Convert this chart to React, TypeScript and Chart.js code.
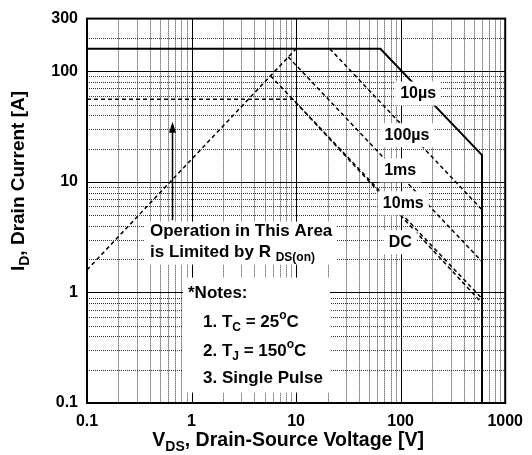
import React, { useEffect, useRef } from 'react';
import { Chart, registerables } from 'chart.js';

Chart.register(...registerables);

const FONT = '"Liberation Sans", Arial, Helvetica, sans-serif';

// Axis ranges and tick labels
const xTickValues = [0.1, 1, 10, 100, 1000];
const yTickValues = [0.1, 1, 10, 100, 300];
const xMajorGrid = [1, 10, 100];
const yMajorGrid = [1, 10, 100];

// Safe operating area boundaries (V, A)
const limitV = [0.1, 64, 600, 600];
const limitI = [160, 160, 17.5, 0.1];
const rdsV = [0.1, 10];
const rdsI = [1.6, 160];
const us100V = [21, 600];
const us100I = [160, 5.6];
const ms1V = [8.4, 600];
const ms1I = [135, 1.9];
const ms10V = [5.7, 600];
const ms10I = [91, 0.88];
const dcV = [0.1, 9.3, 600];
const dcI = [56, 56, 0.8];

// Curve labels (anchored in data coordinates)
const curveLabels = ['10µs', '100µs', '1ms', '10ms', 'DC'];
const curveLabelV = [147, 115, 99, 106, 99];
const curveLabelI = [63, 26.4, 12.7, 6.4, 2.85];

// Arrow (data coordinates)
const arrowV = 0.65;
const arrowFromI = 4.5;
const arrowToI = 35;

const pts = (xs: number[], ys: number[]) => xs.map((v, i) => ({ x: v, y: ys[i] }));

type Seg = [string, number];

function richWidth(ctx: CanvasRenderingContext2D, segs: Seg[], size: number) {
  let w = 0;
  for (const [t, k] of segs) {
    ctx.font = `bold ${k === 0 ? size : Math.round(size * 0.72)}px ${FONT}`;
    w += ctx.measureText(t).width;
  }
  return w;
}

function drawRich(ctx: CanvasRenderingContext2D, segs: Seg[], x: number, y: number, size: number, align: 'left' | 'center') {
  const total = richWidth(ctx, segs, size);
  let cx = align === 'center' ? x - total / 2 : x;
  ctx.textBaseline = 'middle';
  ctx.textAlign = 'left';
  ctx.fillStyle = '#000';
  for (const [t, k] of segs) {
    ctx.font = `bold ${k === 0 ? size : Math.round(size * 0.72)}px ${FONT}`;
    const dy = k === 1 ? size * 0.32 : k === 2 ? -size * 0.38 : 0;
    ctx.fillText(t, cx, y + dy);
    cx += ctx.measureText(t).width;
  }
}

const soaPlugin = {
  id: 'soaPlugin',
  beforeDatasetsDraw(chart: any) {
    const { ctx, chartArea, scales } = chart;
    const { left, right, top, bottom } = chartArea;
    const xs = scales.x;
    const ys = scales.y;
    ctx.save();
    ctx.lineWidth = 1;
    // minor grid
    ctx.strokeStyle = '#333';
    ctx.setLineDash([1, 1]);
    for (let d = -1; d <= 2; d++) {
      for (let m = 2; m <= 9; m++) {
        const v = m * Math.pow(10, d);
        if (v > 0.1 && v < 1000) {
          const px = Math.round(xs.getPixelForValue(v)) + 0.5;
          ctx.beginPath();
          ctx.moveTo(px, top);
          ctx.lineTo(px, bottom);
          ctx.stroke();
        }
        if (v > 0.1 && v < 300) {
          const py = Math.round(ys.getPixelForValue(v)) + 0.5;
          ctx.beginPath();
          ctx.moveTo(left, py);
          ctx.lineTo(right, py);
          ctx.stroke();
        }
      }
    }
    // major grid
    ctx.setLineDash([]);
    ctx.strokeStyle = '#000';
    for (const v of xMajorGrid) {
      const px = Math.round(xs.getPixelForValue(v)) + 0.5;
      ctx.beginPath();
      ctx.moveTo(px, top);
      ctx.lineTo(px, bottom);
      ctx.stroke();
    }
    for (const v of yMajorGrid) {
      const py = Math.round(ys.getPixelForValue(v)) + 0.5;
      ctx.beginPath();
      ctx.moveTo(left, py);
      ctx.lineTo(right, py);
      ctx.stroke();
    }
    ctx.restore();
  },
  afterDatasetsDraw(chart: any) {
    const { ctx, chartArea, scales } = chart;
    const { left, right, top, bottom } = chartArea;
    const xs = scales.x;
    const ys = scales.y;
    ctx.save();

    // curve labels with white boxes
    curveLabels.forEach((lab, i) => {
      const cx = xs.getPixelForValue(curveLabelV[i]);
      const cy = ys.getPixelForValue(curveLabelI[i]);
      ctx.font = `bold 16px ${FONT}`;
      const w = ctx.measureText(lab).width;
      ctx.fillStyle = '#fff';
      ctx.fillRect(cx - w / 2 - 5, cy - 12, w + 10, 24);
      ctx.fillStyle = '#000';
      ctx.textAlign = 'center';
      ctx.textBaseline = 'middle';
      ctx.fillText(lab, cx, cy);
    });

    // RDS(on) note box
    ctx.fillStyle = '#fff';
    ctx.fillRect(left + 58, top + 203, 192, 43);
    drawRich(ctx, [['Operation in This Area', 0]], left + 63, top + 213, 17, 'left');
    drawRich(ctx, [['is Limited by R ', 0], ['DS(on)', 1]], left + 63, top + 234, 17, 'left');

    // Notes box
    ctx.fillStyle = '#fff';
    ctx.fillRect(left + 96, top + 259, 147, 115);
    drawRich(ctx, [['*Notes:', 0]], left + 101, top + 275, 17, 'left');
    drawRich(ctx, [['1. T', 0], ['C', 1], [' = 25', 0], ['o', 2], ['C', 0]], left + 116, top + 304, 17, 'left');
    drawRich(ctx, [['2. T', 0], ['J', 1], [' = 150', 0], ['o', 2], ['C', 0]], left + 116, top + 333, 17, 'left');
    drawRich(ctx, [['3. Single Pulse', 0]], left + 116, top + 360, 17, 'left');

    // arrow
    const ax = Math.round(xs.getPixelForValue(arrowV)) + 0.5;
    const ay1 = ys.getPixelForValue(arrowFromI);
    const ay2 = ys.getPixelForValue(arrowToI);
    ctx.strokeStyle = '#000';
    ctx.lineWidth = 1.5;
    ctx.beginPath();
    ctx.moveTo(ax, ay1);
    ctx.lineTo(ax, ay2 + 8);
    ctx.stroke();
    ctx.fillStyle = '#000';
    ctx.beginPath();
    ctx.moveTo(ax, ay2);
    ctx.lineTo(ax - 3.5, ay2 + 11);
    ctx.lineTo(ax + 3.5, ay2 + 11);
    ctx.closePath();
    ctx.fill();

    // frame
    ctx.lineWidth = 2;
    ctx.strokeStyle = '#000';
    ctx.strokeRect(left, top, right - left, bottom - top);

    // axis titles
    drawRich(ctx, [['V', 0], ['DS', 1], [', Drain-Source Voltage [V]', 0]], (left + right) / 2 - 8, 441, 19.5, 'center');
    ctx.save();
    ctx.translate(19, 181);
    ctx.rotate(-Math.PI / 2);
    drawRich(ctx, [['I', 0], ['D', 1], [', Drain Current [A]', 0]], 0, 0, 19, 'center');
    ctx.restore();

    ctx.restore();
  },
};

export default function App() {
  const ref = useRef<HTMLCanvasElement | null>(null);
  useEffect(() => {
    if (!ref.current) return;
    const solid = { borderColor: '#000', borderWidth: 2, pointRadius: 0, showLine: true, fill: false, tension: 0 };
    const dashed = { ...solid, borderWidth: 1.5, borderDash: [4, 3] };
    const chart = new Chart(ref.current, {
      type: 'scatter',
      data: {
        datasets: [
          { label: 'Limit', data: pts(limitV, limitI), ...solid },
          { label: 'RDS(on)', data: pts(rdsV, rdsI), ...dashed },
          { label: '100µs', data: pts(us100V, us100I), ...dashed },
          { label: '1ms', data: pts(ms1V, ms1I), ...dashed },
          { label: '10ms', data: pts(ms10V, ms10I), ...dashed },
          { label: 'DC', data: pts(dcV, dcI), ...dashed },
        ] as any,
      },
      options: {
        animation: false,
        responsive: false,
        devicePixelRatio: 1,
        layout: { padding: { top: 18, right: 23, left: 0, bottom: 0 } },
        plugins: { legend: { display: false }, tooltip: { enabled: false } },
        scales: {
          x: {
            type: 'logarithmic',
            min: 0.1,
            max: 1000,
            afterBuildTicks: (s: any) => { s.ticks = xTickValues.map((v) => ({ value: v })); },
            afterFit: (s: any) => { s.height = 52; },
            grid: { display: false, drawTicks: false },
            border: { display: false },
            ticks: {
              color: '#000',
              padding: 9,
              maxRotation: 0,
              autoSkip: false,
              font: { family: FONT, size: 16, weight: 'bold' },
              callback: (v: any) => String(v),
            },
          },
          y: {
            type: 'logarithmic',
            min: 0.1,
            max: 300,
            afterBuildTicks: (s: any) => { s.ticks = yTickValues.map((v) => ({ value: v })); },
            afterFit: (s: any) => { s.width = 87; },
            grid: { display: false, drawTicks: false },
            border: { display: false },
            ticks: {
              color: '#000',
              padding: 9,
              autoSkip: false,
              font: { family: FONT, size: 16, weight: 'bold' },
              callback: (v: any) => String(v),
            },
          },
        },
      } as any,
      plugins: [soaPlugin],
    });
    return () => chart.destroy();
  }, []);
  return (
    <div style={{ position: 'fixed', left: 0, top: 0, width: 532, height: 455, background: '#fff' }}>
      <canvas ref={ref} width={532} height={455} style={{ display: 'block' }} />
    </div>
  );
}
